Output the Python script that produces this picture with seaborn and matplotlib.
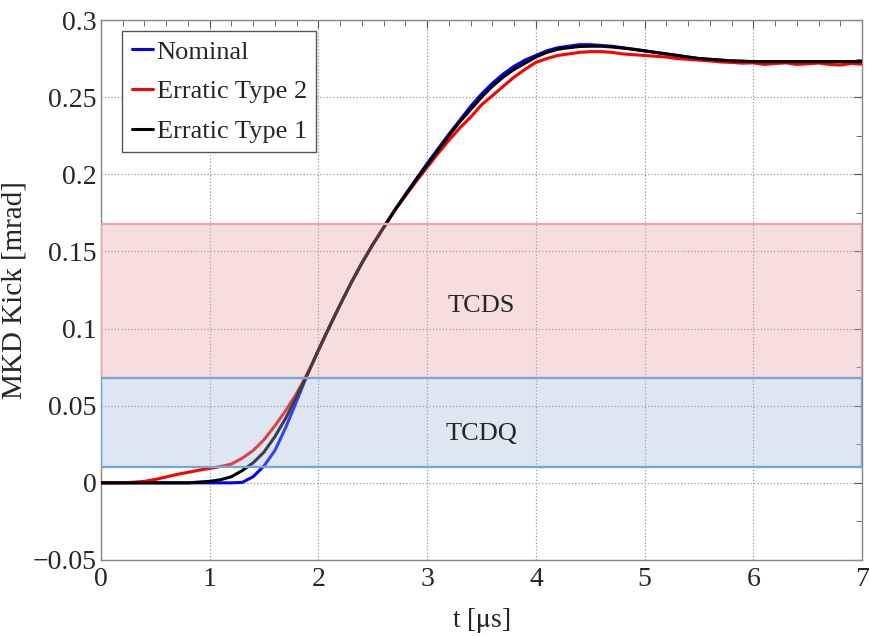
import numpy as np
import pandas as pd
import matplotlib
matplotlib.use("Agg")
import matplotlib.pyplot as plt
import seaborn as sns
from matplotlib.ticker import AutoMinorLocator, FuncFormatter

# sample times [us]
t = np.round(np.arange(0, 7.05, 0.1), 2)

nominal = [0, 0, 0, 0, 0, 0, 0, 0, 0, 0, 0, 0, 0, .0003,
           .004, .011, .021, .036, .053, .0705, .086, .101, .1155, .1295,
           .1425, .1545, .1655, .1765, .187, .197, .207, .2165, .226, .235,
           .244, .252, .259, .265, .270, .274, .277, .280, .282, .283,
           .284, .284, .2835, .283, .282, .281, .280, .279, .278, .277,
           .276, .275, .2745, .274, .2735, .2733, .273,
           .273, .273, .273, .273, .273, .273, .273, .273, .273, .273]

erratic1 = [0, 0, 0, 0, 0, 0, 0, 0, 0, .0005, .001, .002, .004, .008,
            .013, .020, .030, .042, .056, .0705, .086, .101, .1155, .1295,
            .1425, .1545, .1655, .1765, .1865, .1965, .206, .2155, .225, .234,
            .242, .250, .257, .263, .268, .272, .276, .279, .281, .282,
            .2828, .283, .283, .2825, .2818, .281, .280, .279, .278, .277,
            .276, .275, .2745, .274, .2735, .2733, .273,
            .273, .273, .273, .273, .273, .273, .273, .273, .273, .273]

erratic2 = [0, 0, .0001, .0004, .001, .0022, .0038, .0055, .0068, .0082,
            .0094, .0106, .0122, .016, .021, .028, .037, .047, .058, .071,
            .086, .101, .1155, .1295, .1425, .1545, .1655, .1765, .186, .1955,
            .2045, .2135, .222, .230, .237, .245, .251, .257, .263, .268,
            .2725, .275, .277, .278, .279, .2795, .2795, .279, .278, .2775,
            .277, .2765, .276, .275, .2745, .274, .2735, .2728, .2725, .272,
            .2722, .2712, .2718, .2722, .2712, .2716, .2721, .2712, .2708,
            .2718, .2714]

series_names = ["Nominal", "Erratic Type 2", "Erratic Type 1"]
series_colors = ["#0000ff", "#ff0000", "#000000"]

# collimator acceptance bands [mrad]
tcds_band = (0.068, 0.168)
tcdq_band = (0.010, 0.068)

df = pd.concat([
    pd.DataFrame({"t": t, "kick": nominal, "case": "Nominal"}),
    pd.DataFrame({"t": t, "kick": erratic2, "case": "Erratic Type 2"}),
    pd.DataFrame({"t": t, "kick": erratic1, "case": "Erratic Type 1"}),
])

sns.set_style("white")
plt.rcParams["font.family"] = ["Liberation Serif", "DejaVu Serif"]
plt.rcParams["mathtext.fontset"] = "stix"

fig = plt.figure(figsize=(8.69, 6.37), dpi=100)
ax = fig.add_axes([0.1162, 0.1209, 0.8758, 0.8477])

sns.lineplot(data=df, x="t", y="kick", hue="case", hue_order=series_names,
             palette=dict(zip(series_names, series_colors)), linewidth=2.2,
             ax=ax, zorder=3)

# shaded bands drawn over the curves
ax.axhspan(*tcds_band, facecolor=(0.91, 0.63, 0.63, 0.35),
           edgecolor="#e8a6a6", linewidth=1.6, zorder=4)
ax.axhspan(*tcdq_band, facecolor=(0.63, 0.72, 0.86, 0.35),
           edgecolor="#74a4d4", linewidth=1.6, zorder=4)
ax.text(3.5, 0.1145, "TCDS", fontsize=19, ha="center", va="center", zorder=5)
ax.text(3.5, 0.0317, "TCDQ", fontsize=19, ha="center", va="center", zorder=5)

ax.set_xlim(0, 7)
ax.set_ylim(-0.05, 0.3)
ax.set_xticks(range(0, 8))
ax.set_yticks(np.round(np.arange(-0.05, 0.31, 0.05), 2))
ax.yaxis.set_major_formatter(
    FuncFormatter(lambda v, p: ("%g" % round(v, 3)).replace("-", "\u2212")))
ax.xaxis.set_minor_locator(AutoMinorLocator(5))
ax.yaxis.set_minor_locator(AutoMinorLocator(2))
ax.tick_params(which="both", direction="in", top=True, right=True,
               labelsize=20, pad=3, color="#555555")
ax.tick_params(axis="x", pad=5)
ax.tick_params(which="major", length=6)
ax.tick_params(which="minor", length=4)
ax.grid(True, which="major", linestyle=":", color="#999999", linewidth=0.9)
for s in ax.spines.values():
    s.set_color("#888888")
    s.set_linewidth(1.0)

ax.set_xlabel(r"t [$\mathrm{\mu}$s]", fontsize=20, labelpad=10)
ax.set_ylabel("MKD Kick [mrad]", fontsize=21, labelpad=4)

leg = ax.legend(loc="upper left", bbox_to_anchor=(0.028, 0.98), fontsize=19,
                handlelength=0.8, handletextpad=0.15, borderpad=0.35,
                labelspacing=0.62, fancybox=False, framealpha=1,
                edgecolor="#555555", borderaxespad=0)
leg.get_frame().set_linewidth(1.0)
leg.set_zorder(6)

fig.savefig("out.png", dpi=100)
